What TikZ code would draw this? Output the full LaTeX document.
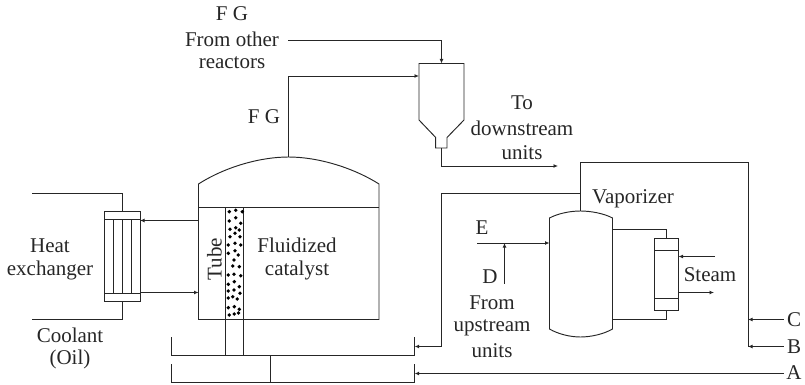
\documentclass[tikz,border=0pt]{standalone}
\usepackage{fontspec}
\setmainfont{Liberation Serif}
\usetikzlibrary{arrows.meta}
\tikzset{
  pipe/.style={draw=black!85,line width=0.95pt},
  flow/.style={pipe,-{Latex[length=4.5pt,width=4pt]}},
  lbl/.style={inner sep=0pt,font=\fontsize{21}{24}\selectfont,text=black!85,align=center},
  dot/.style={fill=black,draw=none}
}
\begin{document}
\begin{tikzpicture}[x=1pt,y=-1pt]
\useasboundingbox (0,0) rectangle (805,385);
% heat exchanger
\coordinate (hxtl) at (104,211); \coordinate (hxbr) at (140,301.5);
\draw[pipe] (hxtl) rectangle (hxbr);
\draw[pipe] (104,219)--(140,219) (104,293.5)--(140,293.5);
\draw[pipe] (113,219)--(113,293.5) (122,219)--(122,293.5) (131,219)--(131,293.5);
\coordinate (cin) at (32,193); \coordinate (cout) at (32,319.5);
\draw[pipe] (cin)-|(122,211);
\draw[pipe] (cout)-|(122,301.5);
% reactor
\coordinate (rtl) at (198.5,184); \coordinate (rtr) at (379,184);
\coordinate (rtop) at (288.5,157);
\draw[pipe] (198.5,207)--(rtl) .. controls (225,167) and (260,157) .. (rtop) .. controls (317,157) and (352,167) .. (rtr)--(379,319.5)--(198.5,319.5)--cycle;
\draw[pipe] (198.5,207)--(379,207);
\draw[pipe] (225.5,207)--(225.5,355.5) (243.5,207)--(243.5,355.5);
\draw[flow] (198.5,220.5)--(140,220.5);
\draw[flow] (140,292.5)--(198.5,292.5);
% catalyst dots
\foreach \x/\y in {229.3/211.7,235.7/210.3,242.3/211.7,229.3/221,235.7/217.7,240.7/223.3,235.7/227.7,230/229.3,239.3/230,235/233.3,230/236.7,240/236.7,235/243.3,228.3/245,240.7/245,235/250.7,228.3/253.3,238.3/255,234/260,
 232.7/266,239.3/266.7,228.3/275,234/274.3,240.7/275.7,234.3/281.7,228.3/284.3,239.3/286.7,234/290,240/293.3,228.3/291,232.7/296.7,228.3/298,237.3/299,228.3/307.7,234.3/306.7,239.3/309.3,229.3/315,234.3/314,238.5/313}
  \fill[dot] (\x,\y) circle (1.9);
% manifolds
\coordinate (m1r) at (414.7,346.5); \coordinate (m2r) at (414.7,373.5);
\draw[pipe] (171,337)--(171,355.5)--(414.7,355.5)--(414.7,337);
\draw[pipe] (171,364)--(171,382)--(414.7,382)--(414.7,364);
\draw[pipe] (270.5,355.5)--(270.5,382);
% separator
\coordinate (sept) at (441.5,63.5); \coordinate (sepl) at (419,76); \coordinate (sepb) at (441.5,148);
\draw[pipe] (419,63.5)--(464,63.5)--(464,120)--(447,137.5)--(447,148)--(435.7,148)--(435.7,137.5)--(419,120)--cycle;
\coordinate (fgo) at (288,40.3);
\draw[flow] (fgo)-|(sept);
\draw[flow] (rtop)|-(sepl);
\coordinate (down) at (558,166);
\draw[flow] (sepb)|-(down);
% vaporizer
\coordinate (vtop) at (580.5,211); \coordinate (vl) at (549.5,243);
\draw[pipe] (549.5,218) .. controls (558,213.5) and (570,211) .. (vtop) .. controls (591,211) and (604,213.5) .. (612.5,218)--(612.5,329) .. controls (604,334) and (591,337) .. (580.5,337) .. controls (570,337) and (558,334) .. (549.5,329)--cycle;
\draw[pipe] (654.5,238.5) rectangle (678.5,310.5);
\draw[pipe] (654.5,250)--(678.5,250) (654.5,298.5)--(678.5,298.5);
\draw[pipe] (612.5,229.5)-|(666.5,238.5);
\draw[pipe] (612.5,319.5)-|(666.5,310.5);
\draw[flow] (715,256.5)--(678.5,256.5);
\draw[flow] (678.5,292.5)--(714,292.5);
\coordinate (ein) at (477,243); \coordinate (dj) at (504.5,243); \coordinate (din) at (504.5,283.5);
\draw[flow] (ein)--(vl);
\draw[flow] (din)--(dj);
% lines to manifolds
\coordinate (bc) at (748,346.5);
\draw[pipe] (vtop)--(580.5,162)-|(bc);
\draw[flow] (580.5,193)-|(441.5,346.5)--(m1r);
\draw[flow] (783.5,319.5)--(748,319.5);
\draw[flow] (783.5,346.5)--(bc);
\draw[flow] (783.5,373.5)--(m2r);
% labels
\node[lbl] (l1) at (232,14) {F G};
\node[lbl] (l2) at (232,39) {From other};
\node[lbl] (l3) at (232,63) {reactors};
\node[lbl] (l4) at (264,117) {F G};
\node[lbl] (l5) at (522,103) {To};
\node[lbl] (l6) at (522,128) {downstream};
\node[lbl] (l7) at (522,153) {units};
\node[lbl] (l8) at (633,199) {Vaporizer};
\node[lbl] (l9) at (482,228) {E};
\node[lbl] (l10) at (490,277) {D};
\node[lbl] (l11) at (492,303) {From};
\node[lbl] (l12) at (492,328) {upstream};
\node[lbl] (l13) at (492,351) {units};
\node[lbl] (l14) at (710,275) {Steam};
\node[lbl] (l15) at (794,320) {C};
\node[lbl] (l16) at (794,347) {B};
\node[lbl] (l17) at (794,373) {A};
\node[lbl] (l18) at (50,246) {Heat};
\node[lbl] (l19) at (50,270) {exchanger};
\node[lbl] (l20) at (70,335) {Coolant};
\node[lbl] (l21) at (70,359) {(Oil)};
\node[lbl,rotate=90] (l22) at (214.5,259) {Tube};
\node[lbl] (l23) at (297,245) {Fluidized};
\node[lbl] (l24) at (297,270) {catalyst};
\end{tikzpicture}
\end{document}
